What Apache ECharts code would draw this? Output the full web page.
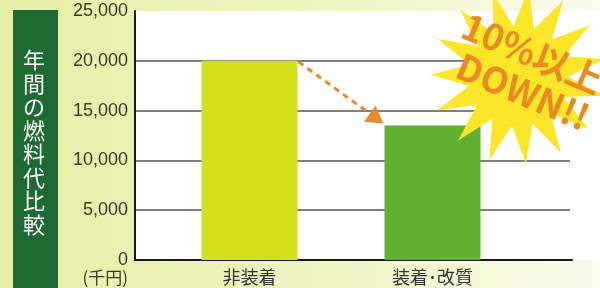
<!DOCTYPE html>
<html>
<head>
<meta charset="utf-8">
<script src="https://cdn.jsdelivr.net/npm/echarts@6/dist/echarts.min.js"></script>
<style>
  html, body { margin: 0; padding: 0; }
  #chart { width: 600px; height: 288px; }
</style>
</head>
<body>
<div id="chart"></div>
<script>
// 年間の燃料代比較（単位：千円）
const categories = ['非装着', '装着･改質'];
const fuelCost = [20000, 13500];
const yTicks = [0, 5000, 10000, 15000, 20000, 25000];
const barColors = ['#d3e01c', '#5fb12f'];
const yTitle = '年間の燃料代比較';
const unitLabel = '(千円)';
const badgeLines = ['10%以上', 'DOWN!!'];

const yMax = yTicks[yTicks.length - 1];
const yStep = yTicks[1] - yTicks[0];
const barW = 96;

// 星形（爆発マーク）の頂点
function starPoints(cx, cy, n, rOut, rIn) {
  const pts = [];
  for (let i = 0; i < n * 2; i++) {
    const r = i % 2 === 0 ? rOut : rIn;
    const a = Math.PI * i / n - Math.PI / 2 + 0.12;
    pts.push([cx + r * Math.cos(a), cy + r * Math.sin(a)]);
  }
  return pts;
}

const chart = echarts.init(document.getElementById('chart'));
chart.setOption({
  animation: false,
  backgroundColor: new echarts.graphic.LinearGradient(0, 0, 1, 0, [
    { offset: 0, color: '#e6eea6' },
    { offset: 0.5, color: '#eef4c0' },
    { offset: 1, color: '#fafcec' }
  ]),
  grid: [
    // 目盛り・軸用
    { left: 135, right: 28, top: 11, bottom: 28, show: true, backgroundColor: '#fff', borderWidth: 0 },
    // 棒グラフ用
    { left: 158, right: 76, top: 11, bottom: 28 }
  ],
  xAxis: [
    {
      gridIndex: 0, type: 'value', min: 0, max: 1,
      axisLine: { show: true, onZero: false, lineStyle: { color: '#1a1a1a', width: 2 } },
      axisTick: { show: false }, axisLabel: { show: false }, splitLine: { show: false }
    },
    {
      gridIndex: 1, type: 'category', data: categories,
      axisLine: { show: false }, axisTick: { show: false },
      axisLabel: { fontSize: 18, color: '#333', margin: 8, fontFamily: 'Noto Sans CJK JP' }
    }
  ],
  yAxis: [
    {
      gridIndex: 0, type: 'value', min: 0, max: yMax, interval: yStep,
      axisLine: { show: true, lineStyle: { color: '#1a1a1a', width: 2 } },
      axisTick: { show: false },
      axisLabel: {
        formatter: v => v.toLocaleString('en-US'),
        fontSize: 18, color: '#3a3a28', margin: 7, fontFamily: 'Liberation Sans'
      },
      splitLine: { showMaxLine: false, lineStyle: { color: '#555', width: 1.5 } }
    },
    { gridIndex: 1, type: 'value', min: 0, max: yMax, show: false }
  ],
  series: [
    {
      type: 'bar', xAxisIndex: 1, yAxisIndex: 1, barWidth: barW,
      data: fuelCost.map((v, i) => ({ value: v, itemStyle: { color: barColors[i] } }))
    }
  ]
});

// 矢印（棒の位置から計算）
const p1 = chart.convertToPixel({ xAxisIndex: 1, yAxisIndex: 1 }, [0, fuelCost[0]]);
const p2 = chart.convertToPixel({ xAxisIndex: 1, yAxisIndex: 1 }, [1, fuelCost[1]]);
const s = [p1[0] + barW / 2 + 1, p1[1] + 1];
const tip = [p2[0] - barW / 2 - 1, p2[1] - 2];
const dx = tip[0] - s[0], dy = tip[1] - s[1];
const len = Math.sqrt(dx * dx + dy * dy);
const ux = dx / len, uy = dy / len;
const headL = 17, headW = 10;
const base = [tip[0] - ux * headL, tip[1] - uy * headL];

const rot = -23 * Math.PI / 180;

chart.setOption({
  graphic: [
    {
      type: 'rect', z: 0, silent: true,
      shape: { x: 570, y: 11, width: 30, height: 249 },
      style: { fill: '#fff' }
    },
    {
      type: 'rect', z: 10,
      shape: { x: 13, y: 10, width: 45, height: 278 },
      style: { fill: '#1d6a33' }
    },
    {
      type: 'text', z: 11, x: 34, y: 48,
      style: {
        text: yTitle.split('').join('\n'),
        fill: '#fff', fontSize: 22, lineHeight: 23.5,
        fontFamily: 'Noto Sans CJK JP', align: 'center', verticalAlign: 'top'
      }
    },
    {
      type: 'text', z: 11, x: 128, y: 278,
      style: {
        text: unitLabel, fill: '#3a3a28', fontSize: 17,
        fontFamily: 'Noto Sans CJK JP', align: 'right', verticalAlign: 'middle'
      }
    },
    {
      type: 'line', z: 12,
      shape: { x1: s[0], y1: s[1], x2: base[0], y2: base[1] },
      style: { stroke: '#e8892c', lineWidth: 3, lineDash: [6, 5] }
    },
    {
      type: 'polygon', z: 12,
      shape: {
        points: [
          tip,
          [base[0] - uy * headW, base[1] + ux * headW],
          [base[0] + uy * headW, base[1] - ux * headW]
        ]
      },
      style: { fill: '#e8892c' }
    },
    {
      type: 'polygon', z: 20,
      shape: { points: starPoints(518, 76, 15, 88, 50) },
      style: { fill: '#fbe629' }
    },
    {
      type: 'group', z: 21, x: 528, y: 72, rotation: rot,
      children: [
        {
          type: 'text', x: -3, y: -19, z: 21,
          style: {
            text: badgeLines[0], fill: '#ec8a22', fontSize: 36, fontWeight: 'bold',
            fontFamily: 'Noto Sans CJK JP', align: 'center', verticalAlign: 'middle'
          }
        },
        {
          type: 'text', x: 3, y: 20, z: 21,
          style: {
            text: badgeLines[1], fill: '#ec8a22', fontSize: 36, fontWeight: 'bold',
            fontFamily: 'Noto Sans CJK JP', align: 'center', verticalAlign: 'middle'
          }
        }
      ]
    }
  ]
});
</script>
</body>
</html>
